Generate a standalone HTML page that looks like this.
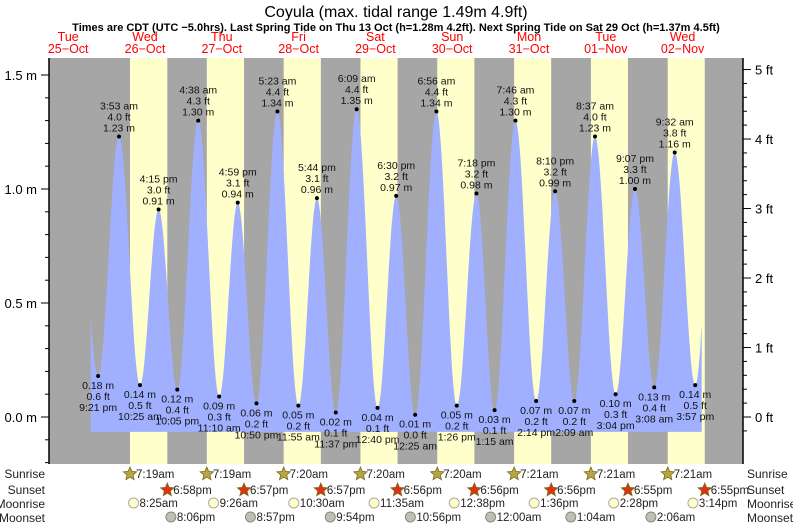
<!DOCTYPE html>
<html><head><meta charset="utf-8"><style>
body{margin:0;background:#fff}
svg{display:block;font-family:"Liberation Sans",sans-serif}
</style></head><body>
<svg id="c" width="793" height="525" xmlns="http://www.w3.org/2000/svg">
<text x="396" y="17" font-size="16" text-anchor="middle">Coyula (max. tidal range 1.49m 4.9ft)</text>
<text x="396" y="31" font-size="11" font-weight="bold" text-anchor="middle">Times are CDT (UTC −5.0hrs). Last Spring Tide on Thu 13 Oct (h=1.28m 4.2ft). Next Spring Tide on Sat 29 Oct (h=1.37m 4.5ft)</text>
</svg>
<script>
// hours from 25-Oct 00:00
const tideTimes=[15.0,21.35,27.88,34.42,40.25,46.08,52.63,59.17,64.98,70.83,77.38,83.92,89.73,95.62,102.15,108.67,114.5,120.42,127.07,133.43,139.58,145.25,151.77,158.23,164.17,170.15,176.62,183.07,189.12,195.13,201.53,207.95,214.0];
const tideHeights=[1.05,0.18,1.23,0.14,0.91,0.12,1.30,0.09,0.94,0.06,1.34,0.05,0.96,0.02,1.35,0.04,0.97,0.01,1.34,0.05,0.98,0.03,1.30,0.07,0.99,0.07,1.23,0.10,1.00,0.13,1.16,0.14,1.20];
const tideLabels=["","9:21 pm","3:53 am","10:25 am","4:15 pm","10:05 pm","4:38 am","11:10 am","4:59 pm","10:50 pm","5:23 am","11:55 am","5:44 pm","11:37 pm","6:09 am","12:40 pm","6:30 pm","12:25 am","6:56 am","1:26 pm","7:18 pm","1:15 am","7:46 am","2:14 pm","8:10 pm","2:09 am","8:37 am","3:04 pm","9:07 pm","3:08 am","9:32 am","3:57 pm",""];
const dayNames=["Tue","Wed","Thu","Fri","Sat","Sun","Mon","Tue","Wed"];
const dayDates=["25−Oct","26−Oct","27−Oct","28−Oct","29−Oct","30−Oct","31−Oct","01−Nov","02−Nov"];
const sunriseT=[7.32,7.32,7.33,7.33,7.33,7.35,7.35,7.35];
const sunriseL=["7:19am","7:19am","7:20am","7:20am","7:20am","7:21am","7:21am","7:21am"];
const sunsetT=[18.97,18.95,18.95,18.93,18.93,18.93,18.92,18.92];
const sunsetL=["6:58pm","6:57pm","6:57pm","6:56pm","6:56pm","6:56pm","6:55pm","6:55pm"];
const moonriseT=[32.42,57.43,82.5,107.58,132.63,157.6,182.47,207.23];
const moonriseL=["8:25am","9:26am","10:30am","11:35am","12:38pm","1:36pm","2:28pm","3:14pm"];
const moonsetT=[44.1,68.95,93.9,118.93,144.0,169.07,194.1];
const moonsetL=["8:06pm","8:57pm","9:54pm","10:56pm","12:00am","1:04am","2:06am"];
const mTicks=[0,0.5,1.0,1.5];
const ftTicks=[0,1,2,3,4,5];

const svg=document.getElementById('c');const NS="http://www.w3.org/2000/svg";
const X0=49,X1=743,Y0=58,Y1=464;
const xT=t=>29.8+t*3.2;
const yM=m=>417-m*228;
function mk(tag,a,p){const e=document.createElementNS(NS,tag);for(const k in a)e.setAttribute(k,a[k]);(p||svg).appendChild(e);return e;}
function txt(x,y,s,size,anchor,fill,p){const e=mk('text',{x:x,y:y,'font-size':size,'text-anchor':anchor||'middle',fill:fill||'#000'},p);e.textContent=s;return e;}

let bg=mk('rect',{x:X0,y:Y0,width:X1-X0,height:Y1-Y0,fill:'#a6a6a6'});


for(let d=0;d<8;d++){
 const base=(d+1)*24;
 const r=mk('rect',{x:xT(base+sunriseT[d]),y:Y0,width:xT(base+sunsetT[d])-xT(base+sunriseT[d]),height:Y1-Y0,fill:'#ffffcc'});
 
 
}
// curve
const tStart=(90-29.8)/3.2,tEnd=(702-29.8)/3.2;
let pts=[];
for(let i=0;i<tideTimes.length-1;i++){
 const t0=tideTimes[i],t1=tideTimes[i+1],h0=tideHeights[i],h1=tideHeights[i+1];
 for(let s=0;s<=30;s++){const t=t0+(t1-t0)*s/30;if(t<tStart||t>tEnd)continue;
  const h=h0+(h1-h0)*(1-Math.cos(Math.PI*s/30))/2;pts.push([xT(t),yM(h)]);}
}
const yb=yM(-0.065);
let d='M'+pts[0][0].toFixed(1)+','+yb+' '+pts.map(p=>'L'+p[0].toFixed(1)+','+p[1].toFixed(1)).join(' ')+' L'+pts[pts.length-1][0].toFixed(1)+','+yb+'Z';
const area=mk('path',{d:d,fill:'#a0b0ff'});


// extremes labels
for(let i=1;i<tideTimes.length-1;i++){
 const x=xT(tideTimes[i]),y=yM(tideHeights[i]),hi=tideHeights[i]>tideHeights[i-1];
 const g=mk('g',{});
 
 
 mk('circle',{cx:x,cy:y,r:2,fill:'#000'},g);
 const m=tideHeights[i].toFixed(2)+' m',f=(tideHeights[i]/0.3048).toFixed(1)+' ft',tl=tideLabels[i];
 if(hi){txt(x,y-27,tl,10.5,'middle','#111',g);txt(x,y-16,f,10.5,'middle','#111',g);txt(x,y-5,m,10.5,'middle','#111',g);}
 else{txt(x,y+13,m,10.5,'middle','#111',g);txt(x,y+24,f,10.5,'middle','#111',g);txt(x,y+35,tl,10.5,'middle','#111',g);}
}
// axes
let ax=mk('line',{x1:X0,y1:Y0,x2:X0,y2:Y1,stroke:'#000','stroke-width':1.5});

let ax2=mk('line',{x1:X1,y1:Y0,x2:X1,y2:Y1,stroke:'#000','stroke-width':1.5});

for(let k=-4;k<=15;k++){const y=yM(k/10);if(y<Y0||y>Y1)continue;mk('line',{x1:X0-(k%5==0?8:4),y1:y,x2:X0,y2:y,stroke:'#000'});}
mTicks.forEach(v=>{const t=txt(X0-12,yM(v)+5,v.toFixed(1)+' m',13,'end');});
for(let k=-1;k<=26;k++){const y=yM(k*0.2*0.3048);if(y<Y0||y>Y1)continue;mk('line',{x1:X1,y1:y,x2:X1+(k%5==0?8:4),y2:y,stroke:'#000'});}
ftTicks.forEach(v=>{const t=txt(X1+12,yM(v*0.3048)+5,v+' ft',13,'start');});
// days
for(let i=0;i<9;i++){const x=xT(i*24+12);
 const a=txt(x,41,dayNames[i],12.5,'middle','#ff0000');
 const b=txt(x,53,dayDates[i],12.5,'middle','#ff0000');}
// rows
const rows=[["Sunrise",478],["Sunset",494],["Moonrise",508],["Moonset",522]];
rows.forEach(r=>{const a=txt(45,r[1],r[0],12,'end','#222');
 const b=txt(747,r[1],r[0],12,'start','#222');});
function star(cx,cy,fill){let p=[];for(let k=0;k<10;k++){const r=k%2?3.2:7,a=-Math.PI/2+k*Math.PI/5;p.push((cx+r*Math.cos(a)).toFixed(1)+','+(cy+r*Math.sin(a)).toFixed(1));}
 return mk('polygon',{points:p.join(' '),fill:fill,stroke:'#7a6a20','stroke-width':0.8});}
for(let d2=0;d2<8;d2++){const base=(d2+1)*24;
 let x=xT(base+sunriseT[d2]);let s=star(x,474,'#b5a642');
 txt(x+6,478,sunriseL[d2],11.5,'start','#222');
 x=xT(base+sunsetT[d2]);s=star(x,490,'#dd3311');
 txt(x+6,494,sunsetL[d2],11.5,'start','#222');}
moonriseT.forEach((t,i)=>{const x=xT(t);const c=mk('circle',{cx:x,cy:503,r:5,fill:'#ffffcc',stroke:'#aaa'});txt(x+6,507,moonriseL[i],11.5,'start','#222');});
moonsetT.forEach((t,i)=>{const x=xT(t);const c=mk('circle',{cx:x,cy:517,r:5,fill:'#c0c0b0',stroke:'#888'});txt(x+6,521,moonsetL[i],11.5,'start','#222');});
</script>
</body></html>
